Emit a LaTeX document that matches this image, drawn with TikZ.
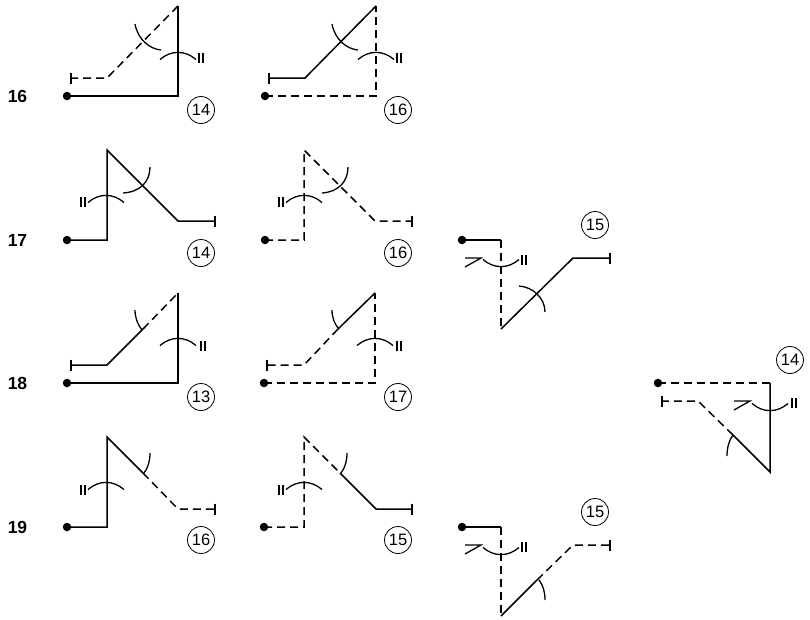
\documentclass[tikz,border=0pt]{standalone}
\usepackage{fontspec}
\setmainfont{Liberation Sans}
\usetikzlibrary{calc}
\tikzset{
  sol/.style={line width=1.5pt,line join=miter},
  das/.style={line width=1.5pt,dash pattern=on 8pt off 5pt,line join=miter},
  thin arc/.style={line width=1.3pt},
  dotn/.style={circle,fill=black,inner sep=0pt,minimum size=8.5pt},
  rowlab/.style={font=\bfseries\fontsize{17.5}{19}\selectfont,inner sep=0pt},
  numc/.style={circle,draw,line width=0.8pt,inner sep=0pt,minimum size=27pt,font=\fontsize{16.5}{18}\selectfont},
}
% name, dot, corner, apex, mid, knee, end
\newcommand\figpts[7]{%
  \node[dotn] (#1d) at (#2) {};
  \coordinate (#1c) at (#3);
  \coordinate (#1t) at (#4);
  \coordinate (#1m) at (#5);
  \coordinate (#1k) at (#6);
  \coordinate (#1e) at (#7);
  \draw[sol] ($(#1e)+(0,-5.5)$) -- ($(#1e)+(0,5.5)$);
}
\newcommand\figbars[2]{%
  \draw[line width=1.5pt] (#1,#2-5) -- (#1,#2+5) (#1+4,#2-5) -- (#1+4,#2+5);
}
\newcommand\figarcup[2]{% II arc centred at x=#1, peak y=#2
  \draw[thin arc] (#1-18,#2+7.5) .. controls (#1-7,#2-2) and (#1+7,#2-2) .. (#1+18,#2+7.5);
}
\newcommand\figarcdn[2]{% II arc centred at x=#1, low point y=#2
  \draw[thin arc] (#1-18,#2-7.5) .. controls (#1-7,#2+2) and (#1+7,#2+2) .. (#1+18,#2-7.5);
}
\newcommand\figcheck[2]{% tip at #1,#2
  \draw[line width=1.3pt] (#1-16,#2) -- (#1,#2) -- (#1-16,#2+9);
}
\begin{document}
\begin{tikzpicture}[x=1pt,y=-1pt]
\useasboundingbox (0,0) rectangle (810,619);
\node[rowlab] (r16) at (17.5,96) {16};
\node[rowlab] (r17) at (17.5,240) {17};
\node[rowlab] (r18) at (17.5,383) {18};
\node[rowlab] (r19) at (17.5,527) {19};
% row 16
\figpts{a}{67,96}{178,96}{178,6}{142,42}{107,78}{71,78}
\draw[sol] (ad.center) -- (ac) -- (at);
\draw[das] (at) -- (ak) -- (ae);
\draw[thin arc] (135,24) .. controls (138,40) and (150,49) .. (161,50);
\figarcup{178}{52}\figbars{199}{58}
\node[numc] (na) at (201,110) {14};
\figpts{b}{265,96}{376,96}{376,6}{340,42}{305,78}{269,78}
\draw[das] (bd.center) -- (bc) -- (bt);
\draw[sol] (bt) -- (bk) -- (be);
\draw[thin arc] (332,24) .. controls (335,40) and (347,49) .. (358,50);
\figarcup{376}{52}\figbars{397}{58}
\node[numc] (nb) at (398,110) {16};
% row 17
\figpts{c}{67,240}{107,240}{107,150}{143,186}{178,221}{215,221}
\draw[sol] (cd.center) -- (cc) -- (ct) -- (ck) -- (ce);
\draw[thin arc] (123,193) .. controls (140,192) and (150,182) .. (150,167);
\figarcup{106}{195}\figbars{81}{202}
\node[numc] (nc) at (201,253) {14};
\figpts{e}{265,240}{304,240}{304,150}{340,186}{375,221}{412,221}
\draw[das] (ed.center) -- (ec) -- (et) -- (ek) -- (ee);
\draw[thin arc] (322,193) .. controls (338,192) and (348,182) .. (348,167);
\figarcup{304}{195}\figbars{279}{202}
\node[numc] (ne) at (398,253) {16};
% column 3 upper
\figpts{f}{462,240}{501,240}{501,329}{537,293}{573,258}{610,258}
\draw[sol] (fd.center) -- (fc);
\draw[das] (fc) -- (ft);
\draw[sol] (ft) -- (fk) -- (fe);
\draw[thin arc] (519,286) .. controls (533,287) and (545,298) .. (545,312);
\figarcdn{501}{267}\figbars{522}{260}\figcheck{481}{258}
\node[numc] (nf) at (595,225) {15};
% row 18
\figpts{g}{67,383}{178,383}{178,293}{143,329}{107,365}{71,365}
\draw[sol] (gd.center) -- (gc) -- (gt);
\draw[sol] (ge) -- (gk) -- (gm);
\draw[das] (gm) -- (gt);
\draw[thin arc] (135,310) .. controls (135,318) and (138,325) .. (142,330);
\figarcup{178}{338}\figbars{201}{346}
\node[numc] (ng) at (201,397) {13};
\figpts{h}{264,383}{375,383}{375,293}{338,329}{304,365}{267,365}
\draw[das] (hd.center) -- (hc) -- (ht);
\draw[sol] (ht) -- (hm);
\draw[das] (hm) -- (hk) -- (he);
\draw[thin arc] (332,310) .. controls (332,318) and (335,325) .. (339,329);
\figarcup{375}{338}\figbars{397}{346}
\node[numc] (nh) at (398,397) {17};
% row 19
\figpts{i}{67,527}{107,527}{107,437}{143,473}{178,509}{215,509}
\draw[sol] (id.center) -- (ic) -- (it) -- (im);
\draw[das] (im) -- (ik) -- (ie);
\draw[thin arc] (150,453) .. controls (150,461) and (148,468) .. (144,473);
\figarcup{106}{482}\figbars{81}{490}
\node[numc] (ni) at (201,540) {16};
\figpts{j}{264,527}{304,527}{304,437}{340,473}{376,509}{412,509}
\draw[das] (jd.center) -- (jc) -- (jt) -- (jm);
\draw[sol] (jm) -- (jk) -- (je);
\draw[thin arc] (347,453) .. controls (347,461) and (345,468) .. (341,473);
\figarcup{304}{482}\figbars{279}{490}
\node[numc] (nj) at (398,540) {15};
% column 3 lower
\figpts{k}{462,527}{501,527}{501,616}{537,580}{573,545}{610,545}
\draw[sol] (kd.center) -- (kc);
\draw[das] (kc) -- (kt);
\draw[sol] (kt) -- (km);
\draw[das] (km) -- (kk) -- (ke);
\draw[thin arc] (539,580) .. controls (543,585) and (545,592) .. (545,600);
\figarcdn{501}{555}\figbars{522}{547}\figcheck{481}{545}
\node[numc] (nk) at (595,512) {15};
% right
\figpts{l}{658,383}{770,383}{770,472}{733,435}{698,401}{662,401}
\draw[das] (ld.center) -- (lc);
\draw[sol] (lc) -- (lt) -- (lm);
\draw[das] (lm) -- (lk) -- (le);
\draw[thin arc] (733,435) .. controls (729,440) and (727,448) .. (727,456);
\figarcdn{770}{411}\figbars{792}{403}\figcheck{750}{401}
\node[numc] (nl) at (790,360) {14};
\end{tikzpicture}
\end{document}
